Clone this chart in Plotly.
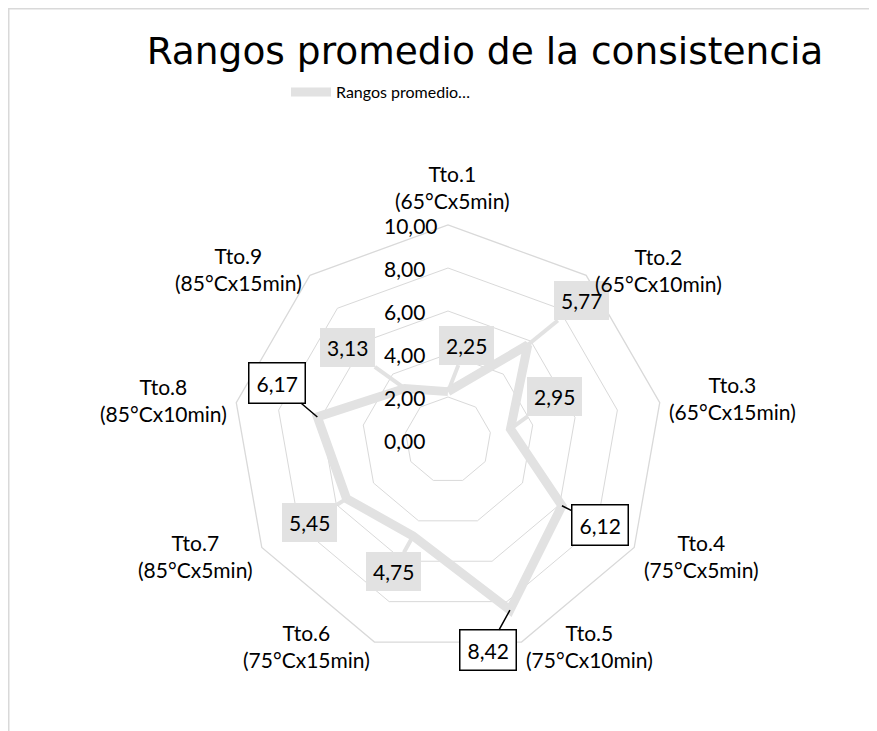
import plotly.graph_objects as go
import math

categories = ["Tto.1<br>(65°Cx5min)", "Tto.2<br>(65°Cx10min)", "Tto.3<br>(65°Cx15min)",
              "Tto.4<br>(75°Cx5min)", "Tto.5<br>(75°Cx10min)", "Tto.6<br>(75°Cx15min)",
              "Tto.7<br>(85°Cx5min)", "Tto.8<br>(85°Cx10min)", "Tto.9<br>(85°Cx15min)"]
values = [2.25, 5.77, 2.95, 6.12, 8.42, 4.75, 5.45, 6.17, 3.13]
value_labels = ["2,25", "5,77", "2,95", "6,12", "8,42", "4,75", "5,45", "6,17", "3,13"]
tick_vals = [0, 2, 4, 6, 8, 10]
series_name = "Rangos promedio…"
title_text = "Rangos promedio de la consistencia"

FONT = "Lato"
GRAY = "#e2e2e2"
GRID = "#d9d9d9"
RMAX = 10

# data label styling: (ax, ay, callout_style)
label_style = [(18, -46, False), (54, -44, False), (44, -32, False), (38, 19, True),
               (-22, 40, True), (-20, 36, False), (-37, 24, False), (-40, -34, True),
               (-57, -41, False)]
# category label offsets from the outer vertex (px)
cat_shift = [(4, 38), (72, 5), (73, 5), (67, -8), (68, -4), (-68, -4), (-66, -8),
             (-73, 3), (-71, 6)]

fig = go.Figure()
fig.add_trace(go.Scatterpolar(
    r=values + values[:1], theta=categories + categories[:1],
    mode="lines", line=dict(color=GRAY, width=9), name=series_name,
    showlegend=True, hoverinfo="skip"))

# invisible cartesian overlay sharing the polar frame, for label placement
fig.add_trace(go.Scatter(x=[0], y=[0], mode="markers", marker=dict(opacity=0),
                         showlegend=False, hoverinfo="skip", xaxis="x", yaxis="y"))

n = len(categories)
annotations = []
for i, (v, lab) in enumerate(zip(values, value_labels)):
    ang = math.radians(360.0 * i / n)
    px, py = v * math.sin(ang), v * math.cos(ang)
    ax, ay, callout = label_style[i]
    common = dict(x=px, y=py, xref="x", yref="y", text=lab, showarrow=True,
                  ax=ax, ay=ay, arrowhead=0, borderpad=7,
                  font=dict(family=FONT, size=21, color="black"))
    if callout:
        annotations.append(dict(**common, arrowwidth=1.5, arrowcolor="black",
                                bgcolor="white", bordercolor="black", borderwidth=1.5))
    else:
        annotations.append(dict(**common, arrowwidth=4, arrowcolor=GRAY,
                                bgcolor=GRAY, borderwidth=0))

# category labels, centred, just outside each outer vertex
for i, cat in enumerate(categories):
    ang = math.radians(360.0 * i / n)
    sx, sy = cat_shift[i]
    annotations.append(dict(x=RMAX * math.sin(ang), y=RMAX * math.cos(ang), xref="x", yref="y",
                            text=cat, showarrow=False, xanchor="center", yanchor="middle",
                            align="center", xshift=sx, yshift=sy,
                            font=dict(family=FONT, size=21, color="black")))

# radial tick labels (left of the vertical axis, like the original)
for tv in tick_vals:
    annotations.append(dict(x=0, y=tv, xref="x", yref="y", text=f"{tv:.2f}".replace(".", ","),
                            showarrow=False, xanchor="left", yanchor="middle", xshift=-66,
                            font=dict(family=FONT, size=21, color="black")))

W, H = 869, 723
L, R, T, B = 225, 214, 217, 76
fig.update_layout(
    width=W, height=H,
    margin=dict(l=L, r=R, t=T, b=B),
    paper_bgcolor="white", plot_bgcolor="rgba(0,0,0,0)",
    separators=",.",
    font=dict(family=FONT, size=21, color="#000000"),
    title=dict(text=title_text, x=477 / W, xref="container", xanchor="center",
               y=1 - 43 / H, yref="container", yanchor="middle",
               font=dict(family="DejaVu Sans", size=37.5, color="black")),
    legend=dict(orientation="h", x=373 / W, xref="container", xanchor="center",
                y=1 - 84 / H, yref="container", yanchor="middle",
                font=dict(family=FONT, size=16, color="black"), itemwidth=40),
    polar=dict(
        domain=dict(x=[0, 1], y=[0, 1]),
        gridshape="linear", bgcolor="rgba(0,0,0,0)",
        radialaxis=dict(range=[0, RMAX], tickvals=tick_vals, showticklabels=False,
                        angle=90, showline=False, ticks="", gridcolor=GRID, gridwidth=1.3),
        angularaxis=dict(direction="clockwise", rotation=90, showgrid=False,
                         showline=True, linecolor=GRID, linewidth=1.3,
                         ticks="", showticklabels=False),
    ),
    xaxis=dict(domain=[0, 1], range=[-RMAX, RMAX], visible=False, fixedrange=True),
    yaxis=dict(domain=[0, 1], range=[-RMAX, RMAX], visible=False, fixedrange=True),
    annotations=annotations,
    shapes=[dict(type="rect", xref="paper", yref="paper",
                 x0=(0.75 - L) / 430, x1=(W + 20 - L) / 430,
                 y0=(H - B - (H + 20)) / 430, y1=(H - B - 0.75) / 430,
                 line=dict(color=GRID, width=1.5), layer="below")],
)

fig.write_html("out.html")
